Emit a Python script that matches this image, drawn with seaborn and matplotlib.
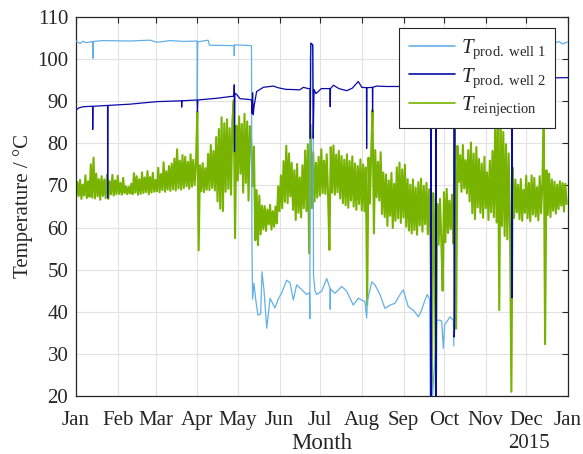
import numpy as np
import pandas as pd
import matplotlib
matplotlib.use("Agg")
import matplotlib.pyplot as plt
from matplotlib.lines import Line2D
import seaborn as sns

# ---------------- data (day of year 2014, temperature in degC) ----------------
month_days = [0, 31, 59, 90, 120, 151, 181, 212, 243, 273, 304, 334, 365]
month_labels = ["Jan", "Feb", "Mar", "Apr", "May", "Jun", "Jul", "Aug", "Sep",
                "Oct", "Nov", "Dec", "Jan"]
y_ticks = [20, 30, 40, 50, 60, 70, 80, 90, 100, 110]

well1_days = [0, 3, 5, 8, 12.4, 12.6, 12.8, 20, 40, 55, 60, 70, 80, 89.8, 90, 90.3,
              98, 99, 117.3, 117.4, 117.6, 124, 130.2, 130.5, 131, 132, 133.5, 135,
              137, 138, 139.5, 141.5, 144, 147.6, 150, 152.6, 156.3, 158.8, 161.2,
              163.7, 168.6, 171.1, 173.2, 173.5, 173.8, 174.2, 175.8, 176.2, 177.3,
              178.5, 182.3, 186, 188.4, 188.6, 188.8, 192.1, 197.1, 200.8, 205.7,
              209.4, 214.4, 215.6, 216.2, 219.4, 221.8, 225.5, 229.2, 233, 236.6,
              240.4, 242.8, 246.5, 250.2, 254, 256.4, 258.9, 260.6, 262.3, 262.8,
              264.5, 266.5, 267.6, 270, 271.3, 272.5, 273.5, 275, 277.4, 280, 280.3,
              345, 352, 355, 358, 361, 365]
well1_vals = [104.3, 103.7, 104.2, 103.9, 104.2, 100.2, 104.2, 104.4, 104.3, 104.5,
              104.0, 104.4, 104.2, 104.3, 90.5, 104.1, 104.5, 103.3, 103.2, 100.8,
              103.4, 103.3, 103.2, 57.0, 43.0, 46.8, 42.5, 39.2, 39.5, 49.5, 45.0,
              36.1, 43.2, 40.9, 43.0, 44.5, 47.5, 46.9, 42.8, 46.4, 44.9, 44.1, 44.5,
              38.4, 100.0, 103.8, 103.3, 48.7, 45.0, 44.1, 44.9, 47.9, 45.6, 40.6,
              45.4, 44.4, 46.0, 44.9, 41.6, 43.2, 42.4, 38.5, 42.6, 47.1, 46.4, 44.1,
              40.8, 41.6, 42.0, 44.1, 45.2, 41.2, 40.4, 38.8, 40.4, 42.8, 44.1, 43.0,
              20.0, 20.0, 30.0, 38.0, 38.0, 37.8, 31.3, 37.0, 37.6, 38.8, 38.0, 31.9,
              104.0, 104.0, 103.7, 104.2, 103.6, 104.1]
well1_segment = [0] * 90 + [1] * 6

well2_days = [0, 2, 5.4, 12.3, 12.4, 12.6, 23.4, 23.5, 23.7, 40, 60, 78.3, 78.4, 78.6,
              89.8, 90.1, 90.4, 104.4, 114.2, 117.2, 117.4, 117.6, 117.9, 119.2,
              121.7, 129, 130.3, 130.6, 131, 131.5, 132.2, 134, 139, 146.4, 150, 156,
              158.8, 166, 168.6, 172.3, 173.6, 173.8, 174.2, 175.6, 176, 176.6, 178,
              182, 188.4, 188.6, 188.8, 191, 195, 200.8, 205, 209.4, 212, 215.5,
              215.6, 215.8, 219.9, 220, 220.2, 223, 230, 243, 245, 255, 263.2, 263.4,
              263.7, 266.8, 267, 267.3, 280.3, 280.5, 280.8, 281.2, 300, 323.2, 323.4,
              323.7, 340, 365]
well2_vals = [87.9, 88.4, 88.7, 88.8, 83.3, 88.8, 89.0, 67.0, 89.0, 89.3, 89.9, 90.1,
              88.6, 90.1, 90.3, 87.5, 90.3, 90.7, 91.1, 91.2, 93.9, 78.0, 91.9, 91.6,
              90.6, 90.4, 90.2, 87.1, 92.0, 86.8, 89.0, 92.3, 93.3, 93.6, 93.2, 92.8,
              92.8, 92.7, 93.3, 93.0, 93.0, 81.2, 103.8, 103.4, 81.2, 92.8, 91.8, 93.0,
              93.0, 88.7, 93.0, 93.8, 93.0, 92.5, 93.1, 94.7, 93.3, 93.2, 78.8, 93.2,
              93.3, 87.5, 93.3, 93.6, 93.5, 93.5, 93.8, 94.0, 94.0, 20.0, 94.0, 94.0,
              20.0, 94.0, 94.0, 34.0, 35.6, 95.0, 95.3, 95.4, 43.3, 95.4, 95.5, 95.6]

# daily readings of the reinjection temperature (alternating low/high of the noisy band)
t_reinjection = [
    67.2, 70.8, 67.5, 71.3, 66.8, 70.2, 67.6, 72.4, 67.0, 71.0,
    67.3, 75.0, 67.1, 76.6, 66.9, 72.8, 67.4, 71.5, 66.6, 72.2,
    67.5, 71.4, 67.0, 72.6, 66.8, 71.0, 67.9, 72.5, 67.6, 71.2,
    67.9, 72.3, 68.0, 70.6, 67.8, 71.8, 68.2, 69.8, 67.9, 69.7,
    68.1, 70.4, 67.9, 72.9, 68.3, 72.2, 67.8, 71.5, 68.0, 73.1,
    68.2, 71.9, 68.4, 73.4, 67.9, 72.0, 68.3, 73.0, 68.5, 71.3,
    68.6, 74.2, 68.4, 72.7, 68.9, 75.5, 68.5, 73.4, 69.0, 74.6,
    68.7, 75.2, 69.1, 76.4, 68.8, 78.6, 69.3, 75.9, 69.0, 77.2,
    69.4, 76.8, 69.8, 75.6, 69.2, 77.4, 69.7, 76.1, 70.1, 75.3,
    87.5, 54.6, 74.8, 68.6, 75.3, 68.4, 74.1, 69.0, 77.5, 68.9,
    79.6, 69.4, 78.2, 68.8, 81.5, 66.2, 83.4, 64.5, 86.2, 63.9,
    84.8, 68.5, 85.7, 69.2, 83.6, 67.8, 85.1, 90.2, 57.5, 84.2,
    71.2, 86.4, 72.8, 84.6, 68.3, 87.0, 70.6, 85.2, 66.4, 84.1,
    80.5, 69.8, 79.2, 57.0, 68.9, 55.8, 67.6, 58.4, 65.2, 59.6,
    65.1, 59.2, 64.3, 60.8, 65.4, 59.5, 63.9, 60.2, 65.0, 61.0,
    69.8, 63.9, 72.4, 64.6, 75.8, 66.1, 79.4, 65.8, 77.6, 67.4,
    75.4, 64.2, 73.6, 61.8, 75.1, 63.5, 71.9, 62.4, 74.8, 64.6,
    78.3, 63.9, 79.8, 53.9, 84.4, 64.6, 77.9, 66.2, 75.4, 67.1,
    76.8, 67.6, 78.6, 68.2, 75.9, 68.0, 77.4, 67.7, 54.7, 79.1,
    68.3, 79.5, 67.8, 77.3, 68.4, 78.2, 66.9, 77.0, 65.8, 76.1,
    65.3, 77.4, 64.7, 75.8, 66.4, 76.9, 65.0, 75.2, 64.2, 74.6,
    65.6, 76.2, 64.1, 75.0, 63.9, 74.3, 41.6, 76.6, 65.7, 77.8,
    87.9, 58.6, 78.4, 67.2, 75.6, 66.4, 77.9, 63.2, 73.1, 62.5,
    72.6, 60.4, 71.2, 62.8, 73.0, 59.9, 70.4, 61.6, 74.3, 62.2,
    75.4, 61.1, 73.8, 62.4, 74.9, 60.2, 71.5, 59.3, 70.2, 58.6,
    71.4, 59.4, 69.5, 58.3, 70.8, 60.5, 71.6, 59.0, 69.9, 60.8,
    70.6, 58.4, 69.1, 56.4, 20.5, 68.2, 57.0, 20.3, 65.6, 55.9,
    66.8, 57.2, 45.0, 68.4, 56.5, 69.2, 58.7, 66.4, 59.6, 67.8,
    56.2, 88.5, 36.0, 79.4, 70.8, 77.2, 68.5, 79.6, 69.3, 76.0,
    68.1, 78.4, 66.2, 80.2, 63.4, 77.6, 62.0, 79.1, 64.8, 76.3,
    63.5, 75.2, 62.3, 76.8, 64.6, 73.1, 61.8, 75.9, 63.6, 78.2,
    62.5, 84.3, 61.2, 89.0, 40.4, 86.5, 60.4, 82.7, 58.0, 79.8,
    57.2, 77.6, 59.6, 21.0, 74.2, 62.3, 71.4, 63.6, 70.2, 62.0,
    71.5, 61.6, 69.0, 63.5, 72.3, 62.2, 70.6, 61.5, 72.4, 63.1,
    71.8, 62.6, 69.6, 61.7, 72.2, 63.4, 70.5, 86.2, 32.3, 73.6,
    63.0, 72.8, 62.5, 71.4, 64.0, 70.9, 63.3, 70.2, 64.4, 71.0,
    65.2, 70.6, 63.8, 70.4, 65.6,
]
reinj_days = list(range(len(t_reinjection)))

labels = [r"$T_{\mathrm{prod.\ well\ 1}}$", r"$T_{\mathrm{prod.\ well\ 2}}$",
          r"$T_{\mathrm{reinjection}}$"]
c_w1, c_w2, c_re = "#62B0E8", "#0A0AAA", "#77B300"

# ---------------- style ----------------
sns.set_theme(style="white")
plt.rcParams["font.family"] = ["Liberation Serif", "DejaVu Serif"]
plt.rcParams["mathtext.fontset"] = "custom"
plt.rcParams["mathtext.rm"] = "Liberation Serif"
plt.rcParams["mathtext.it"] = "Liberation Serif:italic"
plt.rcParams["mathtext.bf"] = "Liberation Serif:bold"

fig = plt.figure(figsize=(5.83, 4.54), dpi=100)
ax = fig.add_axes([76 / 583, 58 / 454, 492 / 583, 379 / 454])

df1 = pd.DataFrame({"day": well1_days, "T": well1_vals, "seg": well1_segment})
df2 = pd.DataFrame({"day": well2_days, "T": well2_vals, "seg": 0})
df3 = pd.DataFrame({"day": reinj_days, "T": t_reinjection, "seg": 0})

sns.lineplot(data=df3, x="day", y="T", units="seg", estimator=None, sort=False,
             color=c_re, lw=1.5, ax=ax, zorder=2)
sns.lineplot(data=df1, x="day", y="T", units="seg", estimator=None, sort=False,
             color=c_w1, lw=0.9, ax=ax, zorder=3)
sns.lineplot(data=df2, x="day", y="T", units="seg", estimator=None, sort=False,
             color=c_w2, lw=0.9, ax=ax, zorder=4)

ax.set_xlim(0, 365)
ax.set_ylim(20, 110)
ax.set_xticks(month_days)
ax.set_xticklabels(month_labels)
ax.set_yticks(y_ticks)
ax.grid(True, color="#E2E2E2", lw=0.8)
ax.set_axisbelow(True)
for s in ax.spines.values():
    s.set_color("#262626")
    s.set_linewidth(0.9)
ax.tick_params(direction="in", top=True, right=True, length=4, width=0.8,
               colors="#262626", labelsize=15, labelcolor="#262626")
ax.tick_params(axis="y", pad=5.5)
ax.tick_params(axis="x", pad=10.5)

ax.set_xlabel("Month", fontsize=16.5, color="#262626")
ax.set_ylabel("Temperature / °C", fontsize=15, color="#262626")
ax.xaxis.set_label_coords(0.5, -0.097)
ax.yaxis.set_label_coords(-0.087, 0.5)
fig.text(550 / 583, 1 - 444 / 454, "2015", ha="right", va="center",
         fontsize=15, color="#262626")

handles = [Line2D([], [], color=c_w1, lw=1.2), Line2D([], [], color=c_w2, lw=1.2),
           Line2D([], [], color=c_re, lw=1.2)]
leg = ax.legend(handles, labels, loc="upper right", bbox_to_anchor=(0.9736, 0.971),
                borderaxespad=0, fontsize=15, frameon=True, fancybox=False,
                framealpha=1, edgecolor="#262626", handlelength=2.2,
                handletextpad=0.3, labelspacing=0.25, borderpad=0.45)
leg.get_frame().set_linewidth(0.8)

fig.savefig("out.png", dpi=100)
